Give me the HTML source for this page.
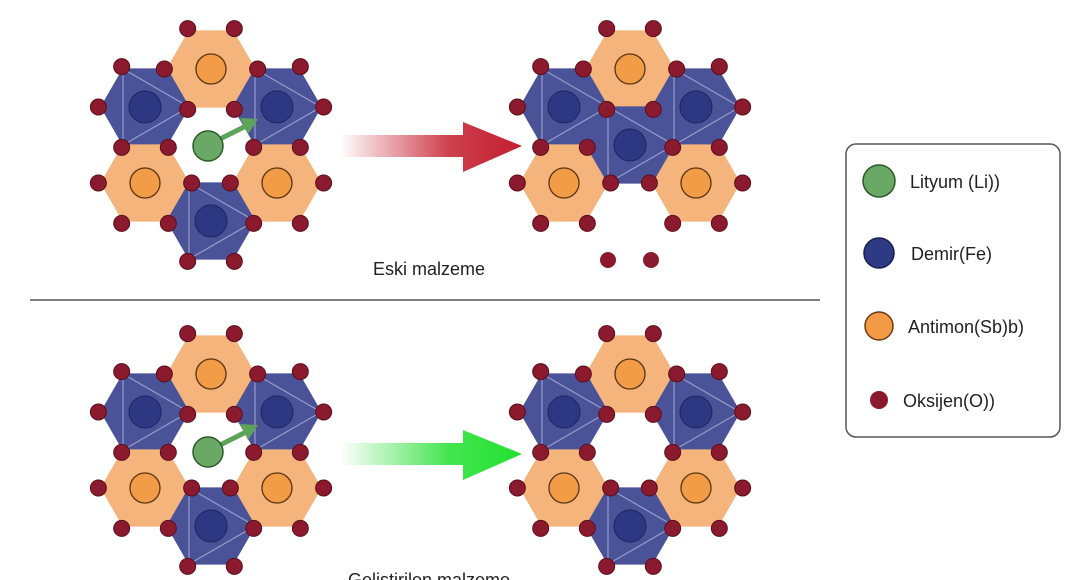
<!DOCTYPE html>
<html><head><meta charset="utf-8"><style>
html,body{margin:0;padding:0;background:#fff;width:1068px;height:580px;overflow:hidden}
svg{display:block}
text{font-family:"Liberation Sans",sans-serif;fill:#222}
</style></head><body>
<svg id="s" width="1068" height="580" viewBox="0 0 1068 580" xmlns="http://www.w3.org/2000/svg">
<defs>
<linearGradient id="gr" x1="0" x2="1"><stop offset="0" stop-color="#c41e2e" stop-opacity="0"/><stop offset="0.6" stop-color="#c41e2e" stop-opacity="0.85"/><stop offset="1" stop-color="#c41e2e"/></linearGradient>
<linearGradient id="gg" x1="0" x2="1"><stop offset="0" stop-color="#22e030" stop-opacity="0"/><stop offset="0.6" stop-color="#22e030" stop-opacity="0.85"/><stop offset="1" stop-color="#22e030"/></linearGradient>
</defs>
<g id="shapes"></g>
<path d="M340,135 L463,135 L463,122 L522,146 L463,172 L463,157 L340,157 Z" fill="url(#gr)"/>
<path d="M340,443 L463,443 L463,430 L522,454 L463,480 L463,465 L340,465 Z" fill="url(#gg)"/>
<line x1="30" y1="300" x2="820" y2="300" stroke="#555" stroke-width="1.5"/>
<text x="429" y="275" font-size="18" text-anchor="middle">Eski malzeme</text>
<text x="429" y="586" font-size="18" text-anchor="middle">Gelistirilen malzeme</text>
<rect x="846" y="144" width="214" height="293" rx="10" fill="#fff" stroke="#555" stroke-width="1.5"/>
<circle cx="879" cy="181" r="16" fill="#6aa865" stroke="#2d5a2a" stroke-width="1.5"/>
<circle cx="879" cy="253" r="15" fill="#2f3a85" stroke="#1a2050" stroke-width="1.5"/>
<circle cx="879" cy="326" r="14" fill="#f29a45" stroke="#6a3a10" stroke-width="1.5"/>
<circle cx="879" cy="400" r="9" fill="#8b1a2e"/>
<text x="910" y="188" font-size="18">Lityum (Li))</text>
<text x="911" y="260" font-size="18">Demir(Fe)</text>
<text x="908" y="333" font-size="18">Antimon(Sb)b)</text>
<text x="903" y="407" font-size="18">Oksijen(O))</text>
</svg>
<script>
var g=document.getElementById('shapes'),NS='http://www.w3.org/2000/svg';
var R=44,H=38.1,dots=[];
function el(t,a){var e=document.createElementNS(NS,t);for(var k in a)e.setAttribute(k,a[k]);g.appendChild(e);return e;}
function verts(cx,cy){return [[cx+R,cy],[cx+R/2,cy+H],[cx-R/2,cy+H],[cx-R,cy],[cx-R/2,cy-H],[cx+R/2,cy-H]];}
function hex(cx,cy,type){var v=verts(cx,cy);
 el('polygon',{points:v.map(function(p){return p.join(',')}).join(' '),fill:type=='b'?'#4a5298':'#f4b47c',stroke:type=='b'?'#4a5298':'#f4b47c','stroke-width':1});
 if(type=='b'){var d='M'+v[0]+' L'+v[2]+' L'+v[4]+' Z';
  el('path',{d:d,fill:'none',stroke:'#b8bee0','stroke-width':1.2,opacity:0.7});
  el('circle',{cx:cx,cy:cy,r:16,fill:'#2e3782',stroke:'#1e2460','stroke-width':1});}
 else el('circle',{cx:cx,cy:cy,r:15,fill:'#f29c48',stroke:'#5a3510','stroke-width':1.3});
 v.forEach(function(p){var x=cx+(p[0]-cx)*1.06,y=cy+(p[1]-cy)*1.06;
  for(var i=0;i<dots.length;i++){if(Math.abs(dots[i][0]-x)<9&&Math.abs(dots[i][1]-y)<9)return;}
  dots.push([x,y]);});}
var ring=[[0,-76,'o'],[-66,-38,'b'],[66,-38,'b'],[-66,38,'o'],[66,38,'o'],[0,76,'b']];
function structure(cx,cy,mode){
 ring.forEach(function(r){ if(mode=='merged'&&r[1]==76)return; hex(cx+r[0],cy+r[1],r[2]);});
 if(mode=='merged'){hex(cx,cy,'b');}
}
structure(211,145,'li');structure(630,145,'merged');structure(211,450,'li');structure(630,450,'ring');
dots.forEach(function(d){el('circle',{cx:d[0],cy:d[1],r:8,fill:'#8b1a2e',stroke:'#5a0f1c','stroke-width':1});});
[[608,260],[651,260]].forEach(function(d){el('circle',{cx:d[0],cy:d[1],r:8,fill:'#8b1a2e'});});
function li(x,y){el('line',{x1:x+8,y1:y-5,x2:x+38,y2:y-20,stroke:'#5da35a','stroke-width':5});
 el('polygon',{points:(x+50)+','+(y-27)+' '+(x+32)+','+(y-28)+' '+(x+40)+','+(y-12),fill:'#5da35a'});
 el('circle',{cx:x,cy:y,r:15,fill:'#6aa865',stroke:'#2d5a2a','stroke-width':1.5});}
li(208,146);li(208,452);
</script>
</body></html>
